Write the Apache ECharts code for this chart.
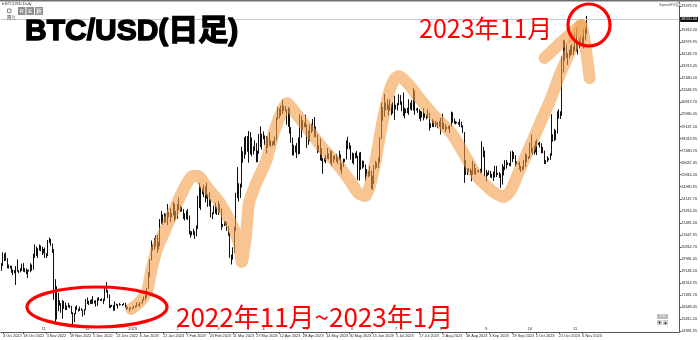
<!DOCTYPE html>
<html><head><meta charset="utf-8">
<script src="https://cdn.jsdelivr.net/npm/echarts@6/dist/echarts.min.js"></script>
<style>html,body{margin:0;padding:0;background:#fff}#c{width:700px;height:340px}</style>
</head><body><div id="c"></div>
<script>
// ---- data (daily BTC/USD, 3 Oct 2022 .. 9 Nov 2023) ----
const startDate = [2022, 9, 3];   // year, monthIndex, day of first category
const axisDays = 466;             // categories incl. empty space on the right
const firstOpen = 19310;
const closePrices = [
 19630,20340,20160,19960,19530,19420,19450,19140,19050,19160,19380,19190,19070,19270,19550,19330,19120,19040,19170,19210,19570,19330,20090,20770,20290,20600,20810,20630,20490,
 20480,20160,20210,21150,21300,20910,20590,18540,15880,17590,17070,16800,16350,16620,16900,16660,16690,16700,16700,16280,15780,16190,16610,16520,16460,16440,16420,16220,16440,17170,
 16970,17090,16890,17110,16970,17090,16840,17220,17130,17130,17090,17210,17780,17810,17360,16630,16780,16740,16440,16900,16830,16820,16780,16840,16830,16920,16710,16550,16630,16600,16540,
 16620,16680,16670,16850,16830,16950,16940,17090,17180,17440,17940,18850,19930,20950,20870,21170,21160,20690,21070,22670,22780,22710,22920,22630,23060,23010,23080,23030,23770,22840,23140,
 23730,23490,23430,23330,22930,22760,23260,22960,21800,21630,21860,21790,21780,22200,24330,23520,24570,24630,24290,24830,24440,24190,23940,23190,23160,23560,23490,23130,
 23640,23470,22360,22350,22430,22410,22200,21710,20360,20190,20630,22140,24200,24750,24390,25030,27420,26970,28040,27790,28180,27310,28340,27490,27490,27990,27140,27270,28350,28030,28480,
 28470,28200,27810,28170,28180,28040,27930,27950,28330,29650,30230,29890,30400,30490,30320,30320,29450,30400,28820,28250,27280,27820,27590,27520,28310,28420,29470,29340,29240,29270,
 28070,28670,29030,28850,29530,28900,28450,27690,27650,27620,26990,26800,26780,26930,27180,27030,27400,26830,26890,27120,26750,26850,27230,26330,26480,26720,26870,28090,27740,27700,27220,
 26820,27250,27070,27120,25760,27240,26350,26500,26480,25850,25940,25900,25920,25130,25580,26330,26510,26340,26850,28310,30010,29890,30690,30530,30470,30270,30690,30080,30450,30480,
 30590,30620,31160,30770,30500,29900,30350,30290,30170,30410,30620,30390,31470,30330,30300,30240,30140,29860,29910,29800,29910,29800,30080,29180,29230,29350,29210,29320,29360,29280,29230,
 29700,29180,29180,29080,29050,29040,29180,29770,29580,29430,29400,29420,29300,29420,29170,28700,26620,26050,26100,26190,26120,26040,26430,26160,26060,26010,26090,26110,27730,27300,25930,
 25800,25870,25970,25820,25790,25750,26240,25900,25900,25830,25160,25840,26220,26530,26600,26570,26530,26760,27210,27130,26570,26580,26580,26260,26300,26210,26350,27020,26910,26970,
 27990,27500,27430,27790,27410,27930,27960,27930,27590,27390,26870,26750,26860,26860,27150,28500,28410,28320,28720,29680,29910,29990,33080,33900,34500,34160,33890,34090,34530,34480,34650,
 35420,34940,34730,35080,35050,35040,35420,35640,36550
];
const highPrices = [
 19700,20450,20360,20440,20040,19600,19520,19520,19250,19220,19500,19950,19210,19350,19660,19700,19350,19330,19240,19250,19690,19600,20350,21000,20850,20730,20990,20920,20830,
 20680,20780,20380,21300,21470,21370,21050,20670,18590,18100,17650,17120,16930,17150,17080,16980,16760,16950,16800,16740,16300,16260,16700,16780,16540,16690,16590,16480,16520,17220,
 17320,17100,17160,17200,17420,17110,17130,17300,17350,17220,17260,17240,18000,18390,17840,17530,16800,16820,16810,17050,16900,16860,16940,16860,16870,16940,16960,16780,16660,16630,16640,
 16630,16760,16770,16990,16880,17000,16970,17180,17390,17490,18000,19100,19980,21260,20990,21440,21620,21650,21180,22750,23310,23060,23160,23120,23790,23240,23480,23160,23930,23800,23300,
 23790,24240,23680,23590,23440,23150,23330,23450,22990,21930,21900,22070,21900,22300,24360,25250,24990,24860,25110,25020,25260,24470,24600,24120,23210,23680,23880,23600,
 23990,23780,23480,22400,22620,22600,22540,22260,21800,20290,20790,22220,24560,26340,25220,25190,27740,27440,28400,28500,28480,28830,28760,28380,27770,28190,28000,27480,28630,29160,28650,
 28800,28530,28490,28440,28750,28180,28110,28170,28450,29770,30510,30420,30610,31000,30600,30550,30330,30480,30410,29100,28380,27880,27820,28000,28390,30000,29880,29600,29430,29960,
 29300,28880,29260,29340,29660,29800,29150,28610,27860,28330,27640,26960,27000,27190,27660,27280,27480,27460,27130,27150,27260,27040,27480,27210,26610,26920,26910,28190,28440,28040,27840,
 27350,27300,27330,27450,27130,27350,27390,26800,26770,26520,26200,26070,26430,26080,25750,26460,26770,26670,27000,28400,30790,30490,31400,30800,31020,30650,31000,30710,30830,31270,
 30650,30770,31380,31320,30880,31500,30450,30380,30440,31030,30800,30980,31810,31630,30400,30440,30340,30240,30190,30410,30060,29990,30340,30100,29370,29680,29570,29530,29410,29450,29520,
 29740,30030,29420,29300,29110,29170,29240,30180,30130,29700,29530,29470,29450,29660,29480,29230,28760,26820,26250,26270,26250,26130,26780,26570,26280,26100,26160,26220,28130,27740,27480,
 26130,25960,26110,26070,25860,26030,26420,26420,25940,25990,25880,26540,26380,26820,26840,26670,26620,27430,27480,27380,27160,26740,26620,26720,26420,26390,26830,27300,27220,27080,
 28050,28590,27660,27830,28120,28270,28030,28090,27990,27730,27480,26820,27090,26960,27290,30000,28600,28980,28890,30200,30340,30200,34000,35150,35100,34810,34240,34460,34730,34850,34700,
 35570,35960,34940,35240,35370,35290,35880,35980,36800
];
const lowPrices = [
 19160,19500,19830,19860,19340,19320,19320,19030,18870,18990,18190,19100,19000,19060,19160,19100,19070,18930,18660,19120,19070,19170,19240,20060,20200,20050,20560,20520,20260,
 20370,20060,20050,20180,21080,20890,20400,17170,15590,15800,16370,16750,16270,15850,16530,16450,16450,16640,16580,16180,15480,15620,16160,16460,16350,16400,16400,16000,16110,16440,
 16870,16800,16860,16880,16880,16910,16690,16740,17090,17090,17070,16880,17090,17660,17280,16580,16590,16670,16400,16400,16750,16560,16760,16790,16730,16790,16620,16470,16510,16350,16500,
 16500,16570,16610,16660,16760,16670,16910,16910,17100,17140,17300,17910,18720,19890,20550,20630,20860,20410,20660,20860,22420,22330,22480,22510,22330,22870,22540,22880,23000,22580,22730,
 22770,23380,23240,23270,22750,22650,22740,22680,21690,21460,21620,21640,21370,21550,22050,23500,23380,24450,24260,23900,24160,23590,23620,22850,22740,23080,23120,23030,
 23030,23220,21990,22190,22260,22310,21930,21600,20060,19600,19940,20400,21930,24190,23960,24200,24930,26640,26910,27200,27400,26640,27210,27080,27210,27450,26660,26690,27260,27720,27540,
 28260,27870,27280,27660,27830,27730,27800,27880,27810,28170,29630,29700,29870,30010,30230,30180,29270,29120,28650,28020,27140,27140,27350,26970,27210,27250,28380,28900,29090,29100,
 27670,27880,28130,28690,28810,28400,28400,27300,27380,26800,26760,25870,26700,26600,26900,26870,26600,26400,26650,26850,26700,26560,26810,26110,25870,26340,26680,26860,27580,27570,26850,
 26610,26520,26940,26960,25430,25400,26150,26230,26320,25400,25700,25640,25720,24820,24750,25170,26180,26280,26270,26640,28270,29540,29820,30260,30310,29900,30220,29920,30040,29600,
 30330,30250,30610,30650,30200,29870,29710,30060,30070,29950,30310,30250,30250,29960,30250,30090,29660,29510,29760,29570,29740,29640,29740,28860,29050,29110,29100,29120,29260,29030,29110,
 28590,28950,28960,28750,28960,28970,28700,29130,29400,29330,29290,29360,29260,29120,29080,28700,25250,25800,25790,26000,25810,25360,25800,25860,25780,25980,25960,25890,25930,27020,25700,
 25340,25730,25800,25610,25580,25380,25620,25650,25810,25590,24900,25130,25760,26130,26230,26480,26420,26390,26680,26890,26380,26520,26520,26160,26000,26100,26180,26340,26680,26880,
 26960,27330,27180,27220,27350,27170,27870,27690,27290,27300,26550,26560,26690,26800,26840,27120,28100,28140,28200,28650,29680,29660,29880,32880,33700,33890,33400,33870,34050,34100,34080,
 34350,34320,34120,34550,34740,34760,34540,35110,35550
];
const priceTicks = [14981.95,15815.20,16648.45,17481.70,18314.95,19148.20,19981.45,20814.70,21647.95,22481.20,
 23314.45,24147.70,24980.95,25814.20,26647.45,27480.70,28313.95,29147.20,29980.45,30813.70,31646.95,32480.20,
 33313.45,34146.70,34979.95,35813.20,37479.70];
const dateTicks = ['2022-10-04','2022-10-18','2022-11-03','2022-11-19','2022-12-05','2022-12-21','2023-01-06',
 '2023-01-22','2023-02-07','2023-02-23','2023-03-11','2023-03-27','2023-04-12','2023-04-28','2023-05-14','2023-05-30',
 '2023-06-15','2023-07-01','2023-07-17','2023-08-02','2023-08-18','2023-09-03','2023-09-19','2023-10-05','2023-10-21','2023-11-06'];
const monthMarkDates = ['2022-11-01','2022-12-01','2023-01-01','2023-02-01','2023-03-01','2023-04-01','2023-05-01',
 '2023-06-01','2023-07-01','2023-08-01','2023-09-01','2023-10-01','2023-11-01'];
const monthMarkTexts = ['11','12','2023','2','3','4','5','6','7','8','9','10','11'];
// hand-drawn orange highlighter (date, price)
const highlightDates = ['2022-12-31','2023-01-06','2023-01-11','2023-01-14','2023-01-18','2023-01-24','2023-01-31',
 '2023-02-07','2023-02-11','2023-02-15','2023-02-21','2023-03-02','2023-03-10','2023-03-15','2023-03-17','2023-03-20',
 '2023-03-22','2023-03-27','2023-04-03','2023-04-08','2023-04-14','2023-04-17','2023-04-23','2023-05-02','2023-05-11',
 '2023-05-21','2023-05-30','2023-06-05','2023-06-10','2023-06-13','2023-06-17','2023-06-21','2023-06-26','2023-06-30',
 '2023-07-03','2023-07-10','2023-07-18','2023-07-28','2023-08-08','2023-08-18','2023-08-26','2023-09-06','2023-09-13',
 '2023-09-18','2023-09-23','2023-09-30','2023-10-08','2023-10-15','2023-10-22','2023-10-29','2023-11-05'];
const highlightPrices = [16525,17010,17770,19222,20744,22127,23717,25169,25722,25722,24962,23855,22403,21089,19775,21643,
 23855,25238,26829,28696,30286,30770,30079,28904,27728,26622,25446,24547,24340,25031,26829,29111,31462,32430,
 32638,32015,30978,29802,28696,27036,25653,24616,24270,24754,25930,27520,29387,30978,32845,34435,36164];
const arrowDates = ['2023-10-11','2023-11-05','2023-11-11'];
const arrowPrices = [33882,36164,32499];

// ---- build ----
const pad = n => (n < 10 ? '0' : '') + n;
const categories = [];
for (let i = 0; i < axisDays; i++) {
  const d = new Date(Date.UTC(startDate[0], startDate[1], startDate[2]) + i * 86400000);
  categories.push(d.getUTCFullYear() + '-' + pad(d.getUTCMonth() + 1) + '-' + pad(d.getUTCDate()));
}
const candles = closePrices.map((c, i) => [i === 0 ? firstOpen : closePrices[i - 1], c, lowPrices[i], highPrices[i]]);
const MON = ['Jan','Feb','Mar','Apr','May','Jun','Jul','Aug','Sep','Oct','Nov','Dec'];
const tickSet = new Set(dateTicks);
const markMap = {}; monthMarkDates.forEach((d, i) => markMap[d] = monthMarkTexts[i]);
const fmtDate = v => { const p = v.split('-'); return (+p[2]) + ' ' + MON[+p[1] - 1] + ' ' + p[0]; };
const tiny = '"Liberation Sans", Arial, sans-serif';
const jp = '"Noto Sans CJK JP", "Liberation Sans", sans-serif';

const chart = echarts.init(document.getElementById('c'), null, {renderer: 'canvas'});
chart.setOption({
  animation: false,
  backgroundColor: '#ffffff',
  grid: {left: 0, right: 18, top: 2, bottom: 8},
  xAxis: [{
    type: 'category', data: categories, boundaryGap: true,
    axisLine: {show: true, lineStyle: {color: '#555', width: 1}},
    axisTick: {show: true, length: 2, alignWithLabel: true, lineStyle: {color: '#555'},
      interval: (i, v) => tickSet.has(v)},
    axisLabel: {show: true, interval: (i, v) => tickSet.has(v), formatter: fmtDate, align: 'left',
      fontSize: 3.8, color: '#222', margin: 2, fontFamily: tiny},
    splitLine: {show: false}
  }, {
    type: 'category', data: categories, boundaryGap: true, position: 'bottom',
    axisLine: {show: false}, axisTick: {show: false}, splitLine: {show: false},
    axisLabel: {show: true, inside: true, margin: 1, interval: (i, v) => v in markMap,
      formatter: v => markMap[v] || '', fontSize: 3.8, color: '#222', fontFamily: tiny}
  }],
  yAxis: {
    type: 'value', position: 'right', min: 14935, max: 37755, scale: true,
    axisLine: {show: true, lineStyle: {color: '#555', width: 1}},
    axisTick: {show: true, length: 2, customValues: priceTicks, lineStyle: {color: '#555'}},
    axisLabel: {show: true, customValues: priceTicks, formatter: v => v.toFixed(2), fontSize: 3.8,
      color: '#222', margin: 2, fontFamily: tiny},
    splitLine: {show: false}
  },
  series: [{
    type: 'candlestick', data: candles, barWidth: 1, z: 2,
    itemStyle: {color: '#ffffff', color0: '#111111', borderColor: '#111111', borderColor0: '#111111', borderWidth: 1},
    markLine: {
      silent: true, symbol: ['none', 'none'], animation: false,
      lineStyle: {color: '#c3ccd6', width: 1, type: 'solid'},
      label: {position: 'end', formatter: p => p.value.toFixed(2), color: '#fff', backgroundColor: '#000',
        fontSize: 3.8, padding: [1, 1, 0, 1], distance: 1, fontFamily: tiny},
      data: [{yAxis: closePrices[closePrices.length - 1]}]
    }
  }, {
    type: 'line', z: 5, symbol: 'none', smooth: 0.2, silent: true,
    data: highlightDates.map((d, i) => [d, highlightPrices[i]]),
    lineStyle: {color: 'rgba(243,156,72,0.6)', width: 12, cap: 'round', join: 'round'}
  }, {
    type: 'line', z: 5, symbol: 'none', smooth: 0.1, silent: true,
    data: arrowDates.map((d, i) => [d, arrowPrices[i]]),
    lineStyle: {color: 'rgba(243,156,72,0.6)', width: 12, cap: 'round', join: 'round'}
  }],
  graphic: [
    {type: 'rect', z: 50, shape: {x: 0, y: 0, width: 700, height: 1.6}, style: {fill: '#707070'}},
    {type: 'text', z: 50, style: {text: '▾ BTCUSD,Daily', x: 2, y: 3.5, fontSize: 4, fontFamily: tiny, fill: '#333', verticalAlign: 'middle'}},
    {type: 'rect', z: 50, shape: {x: 7.5, y: 9, width: 3.5, height: 3.5}, style: {fill: '#fff', stroke: '#555', lineWidth: 0.7}},
    {type: 'text', z: 50, style: {text: '降り', x: 7, y: 17, fontSize: 4.5, fontFamily: jp, fill: '#333', verticalAlign: 'middle'}},
    {type: 'rect', z: 50, shape: {x: 18, y: 7, width: 7.5, height: 8}, style: {fill: '#8f8f8f'}},
    {type: 'rect', z: 50, shape: {x: 26.5, y: 7, width: 7.5, height: 8}, style: {fill: '#8f8f8f'}},
    {type: 'rect', z: 50, shape: {x: 35, y: 7, width: 8, height: 8}, style: {fill: '#8f8f8f'}},
    {type: 'text', z: 51, style: {text: 'R', x: 21.7, y: 11, fontSize: 6, fontFamily: tiny, fill: '#fff', align: 'center', verticalAlign: 'middle'}},
    {type: 'text', z: 51, style: {text: 'E', x: 30.2, y: 11, fontSize: 6, fontFamily: tiny, fill: '#fff', align: 'center', verticalAlign: 'middle'}},
    {type: 'text', z: 51, style: {text: '新', x: 39, y: 11, fontSize: 6, fontFamily: jp, fill: '#fff', align: 'center', verticalAlign: 'middle'}},
    {type: 'text', z: 50, style: {text: 'SpeedFX', x: 659, y: 4.5, fontSize: 4, fontFamily: tiny, fill: '#555', verticalAlign: 'middle'}},
    {type: 'circle', z: 50, shape: {cx: 678, cy: 4.5, r: 2}, style: {fill: '#ddd', stroke: '#888', lineWidth: 0.6}},
    {type: 'rect', z: 50, shape: {x: 657, y: 314, width: 11, height: 5}, style: {fill: '#bdbdbd'}},
    {type: 'text', z: 51, style: {text: '1:1', x: 662.5, y: 316.5, fontSize: 3.5, fontFamily: tiny, fill: '#fff', align: 'center', verticalAlign: 'middle'}},
    {type: 'rect', z: 50, shape: {x: 657, y: 320, width: 5, height: 5}, style: {fill: '#cfcfcf'}},
    {type: 'rect', z: 50, shape: {x: 663, y: 320, width: 5, height: 5}, style: {fill: '#cfcfcf'}},
    {type: 'text', z: 51, style: {text: '▼', x: 659.5, y: 322.5, fontSize: 4, fontFamily: tiny, fill: '#111', align: 'center', verticalAlign: 'middle'}},
    {type: 'text', z: 51, style: {text: '▲', x: 665.5, y: 322.5, fontSize: 4, fontFamily: tiny, fill: '#111', align: 'center', verticalAlign: 'middle'}},
    {type: 'text', z: 60, style: {text: 'BTC/USD(日足)', x: 25, y: 31.5, fontSize: 30, fontWeight: 'bold',
      fontFamily: '"Liberation Sans", "Noto Sans CJK JP", sans-serif', fill: '#000', stroke: '#000', lineWidth: 1.4, verticalAlign: 'middle'}},
    {type: 'text', z: 60, style: {text: '2023年11月', x: 419, y: 28, fontSize: 25, fontFamily: jp, fill: '#ff0000', verticalAlign: 'middle'}},
    {type: 'text', z: 60, style: {text: '2022年11月~2023年1月', x: 176, y: 317, fontSize: 26, fontFamily: jp, fill: '#ff0000', verticalAlign: 'middle'}},
    {type: 'ellipse', z: 60, shape: {cx: 97, cy: 307, rx: 70, ry: 20}, style: {fill: 'none', stroke: '#ff0000', lineWidth: 3.2}},
    {type: 'circle', z: 60, shape: {cx: 589, cy: 25, r: 21}, style: {fill: 'none', stroke: '#ff0000', lineWidth: 3.2}}
  ]
});
</script>
</body></html>
